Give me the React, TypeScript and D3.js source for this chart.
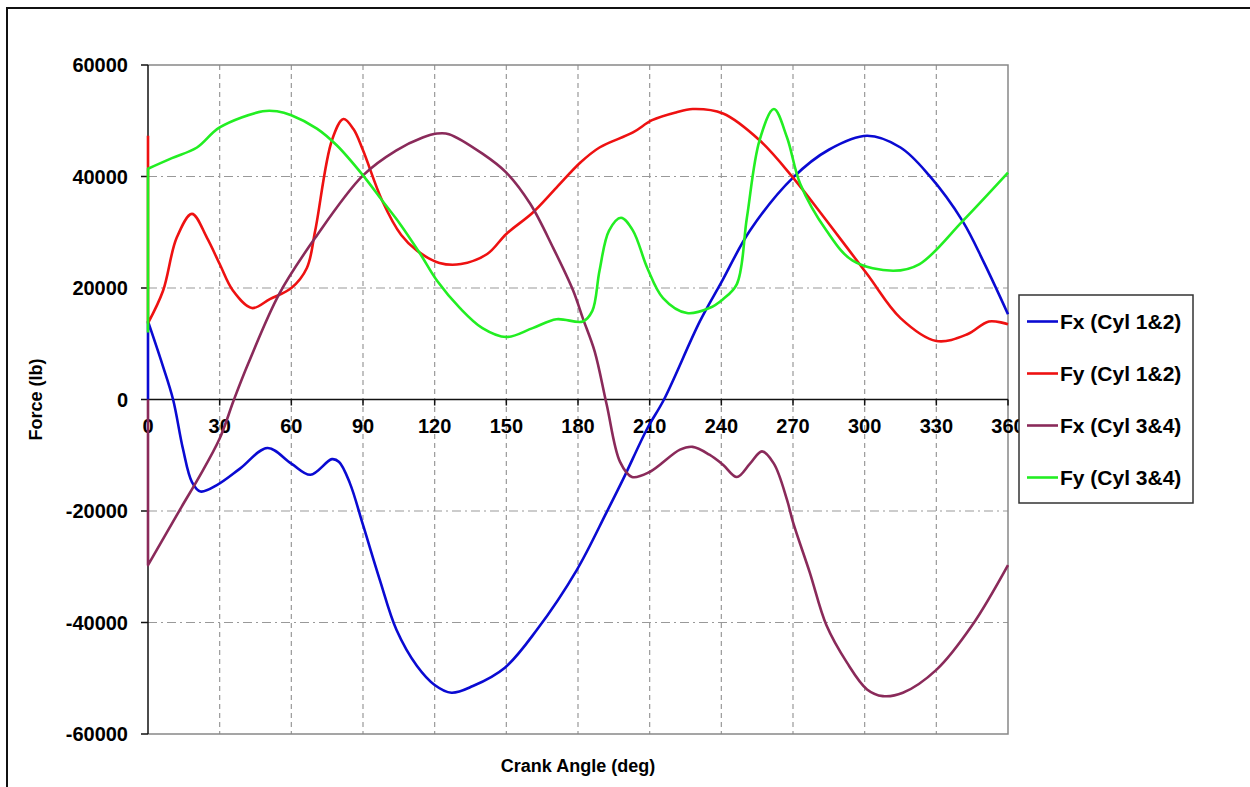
import { useRef, useEffect } from "react";
import * as d3 from "d3";

// crank angle (deg), force (lb); the first pair at 0 deg is the jump the sheet draws at the start
const fxCyl12: [number, number][] = [
  [0, 0], [0, 14000], [6, 6300], [10.5, 0], [14.6, -8800], [18.4, -14800], [22, -16500],
  [29, -15300], [38.5, -12400], [50, -8700], [60, -11500], [68, -13500], [77, -10700],
  [80, -11200], [84.5, -15000], [90, -22500], [97, -32300], [104, -41300], [112.6, -47800],
  [120, -51200], [127, -52600], [136, -51400], [149.4, -48100], [162.8, -41300],
  [179.6, -30500], [192, -20200], [199, -14200], [209, -5200], [216, 0], [231, 14000],
  [240, 21000], [252, 30300], [270, 39800], [285, 44800], [301, 47300], [315, 45200],
  [327, 40200], [341, 32000], [350, 24500], [360, 15300],
];

const fyCyl12: [number, number][] = [
  [0, 47300], [0, 13700], [6.3, 19500], [12, 29000], [18.4, 33300], [24.7, 29000],
  [30, 24300], [35.6, 19500], [43.5, 16400], [51, 18000], [60, 20000], [66.5, 23600],
  [70, 30300], [77, 46500], [81.8, 50300], [86, 48500], [90, 44700], [98, 35700],
  [106, 29500], [112.6, 26700], [122, 24500], [131, 24300], [142, 26100], [150, 29700],
  [161, 33500], [171, 38000], [181, 42500], [189, 45200], [203, 47900], [211, 50100],
  [221, 51500], [228, 52100], [240.7, 51300], [256, 46500], [270, 39800], [284, 32100],
  [301, 22500], [315, 14600], [330, 10500], [343, 11700], [352, 14000], [360, 13500],
];

const fxCyl34: [number, number][] = [
  [0, 0], [0, -29700], [14, -19300], [21, -14200], [30, -7000], [36, 0], [42, 6500],
  [55, 19000], [70, 29000], [90, 40200], [104, 44700], [115, 47000], [121, 47700],
  [126, 47600], [140, 44100], [150, 40700], [160, 35100], [169.6, 27200], [178, 19500],
  [182, 14600], [187, 8600], [192, -900], [197.6, -11200], [202.6, -13900], [210, -13000],
  [222.7, -9000], [228, -8500], [235, -9900], [240.7, -11700], [246.5, -13900],
  [252, -11500], [257, -9300], [262, -11500], [267.5, -18000], [270, -22000],
  [277, -31000], [284, -40500], [292.6, -47200], [301, -52000], [307.6, -53200],
  [316, -52600], [330, -48500], [345, -40500], [360, -29700],
];

const fyCyl34: [number, number][] = [
  [0, 12000], [0, 41400], [10, 43300], [20.5, 45200], [30, 48800], [48, 51700],
  [54, 51700], [60, 51000], [70.7, 48600], [79, 45600], [90, 40200], [98, 35700],
  [105.5, 31500], [114, 26100], [121, 21300], [130.6, 16400], [140, 12800], [150, 11200],
  [161, 12800], [171, 14400], [182, 14000], [186, 15900], [189, 23100], [193, 30300],
  [198, 32600], [203, 30300], [209, 23600], [215.6, 18200], [225.6, 15500], [235, 16400],
  [240.7, 18000], [246.5, 20700], [250.7, 32600], [256, 46500], [262, 52100],
  [267.5, 47000], [273, 38700], [284, 30300], [295, 24900], [312, 23100], [323, 24300],
  [341, 32000], [360, 40700],
];

const seriesNames = ["Fx (Cyl 1&2)", "Fy (Cyl 1&2)", "Fx (Cyl 3&4)", "Fy (Cyl 3&4)"];
const seriesColors = ["#0a0ad2", "#ee1111", "#8a2a5a", "#22ee22"];
const xTicks = [0, 30, 60, 90, 120, 150, 180, 210, 240, 270, 300, 330, 360];
const yTicks = [-60000, -40000, -20000, 0, 20000, 40000, 60000];

const ForceChart = () => {
  const svgRef = useRef<SVGSVGElement>(null);

  useEffect(() => {
    const svg = d3.select(svgRef.current);
    svg.selectAll("*").remove();

    const x = d3.scaleLinear().domain([0, 360]).range([148, 1008]);
    const y = d3.scaleLinear().domain([-60000, 60000]).range([734, 65]);
    const font = "'Liberation Sans', Arial, sans-serif";

    // outer frame (right and bottom edges fall off the picture)
    svg.append("rect")
      .attr("x", 7).attr("y", 8).attr("width", 1300).attr("height", 900)
      .attr("fill", "none").attr("stroke", "#111").attr("stroke-width", 2);

    const g = svg.append("g");

    // grid
    g.selectAll(".vgrid")
      .data(xTicks.filter((d) => d > 0 && d < 360))
      .enter().append("line")
      .attr("x1", (d) => x(d)).attr("x2", (d) => x(d))
      .attr("y1", y(60000)).attr("y2", y(-60000))
      .attr("stroke", "#999").attr("stroke-width", 1.2)
      .attr("stroke-dasharray", "5,4");

    g.selectAll(".hgrid")
      .data(yTicks.filter((d) => d !== 0 && Math.abs(d) < 60000))
      .enter().append("line")
      .attr("x1", x(0)).attr("x2", x(360))
      .attr("y1", (d) => y(d)).attr("y2", (d) => y(d))
      .attr("stroke", "#999").attr("stroke-width", 1.2)
      .attr("stroke-dasharray", "9,4,2,4");

    // plot border
    g.append("path")
      .attr("d", `M${x(0)},${y(60000)}H${x(360)}V${y(-60000)}H${x(0)}`)
      .attr("fill", "none").attr("stroke", "#888").attr("stroke-width", 1.5);

    // y axis
    g.append("line")
      .attr("x1", x(0)).attr("x2", x(0)).attr("y1", y(60000)).attr("y2", y(-60000))
      .attr("stroke", "#111").attr("stroke-width", 1.5);
    g.selectAll(".ytick")
      .data(yTicks).enter().append("line")
      .attr("x1", x(0) - 7).attr("x2", x(0))
      .attr("y1", (d) => y(d)).attr("y2", (d) => y(d))
      .attr("stroke", "#111").attr("stroke-width", 1.5);
    g.selectAll(".ylabel")
      .data(yTicks).enter().append("text")
      .attr("x", 128).attr("y", (d) => y(d)).attr("dy", "0.36em")
      .attr("text-anchor", "end")
      .attr("font-family", font).attr("font-weight", "bold").attr("font-size", 20)
      .text((d) => String(d));

    // x axis at zero
    g.append("line")
      .attr("x1", x(0)).attr("x2", x(360)).attr("y1", y(0)).attr("y2", y(0))
      .attr("stroke", "#111").attr("stroke-width", 1.5);
    g.selectAll(".xtick")
      .data(xTicks).enter().append("line")
      .attr("x1", (d) => x(d)).attr("x2", (d) => x(d))
      .attr("y1", y(0)).attr("y2", y(0) + 6)
      .attr("stroke", "#111").attr("stroke-width", 1.5);
    g.selectAll(".xlabel")
      .data(xTicks).enter().append("text")
      .attr("x", (d) => x(d)).attr("y", y(0) + 33)
      .attr("text-anchor", "middle")
      .attr("font-family", font).attr("font-weight", "bold").attr("font-size", 20)
      .text((d) => String(d));

    // axis titles
    svg.append("text")
      .attr("x", x(180)).attr("y", 772).attr("text-anchor", "middle")
      .attr("font-family", font).attr("font-weight", "bold").attr("font-size", 18)
      .text("Crank Angle (deg)");
    svg.append("text")
      .attr("transform", `translate(42,${y(0)}) rotate(-90)`)
      .attr("text-anchor", "middle")
      .attr("font-family", font).attr("font-weight", "bold").attr("font-size", 18)
      .text("Force (lb)");

    // series: straight jump at 0 deg, then a smooth curve
    const curve = d3.line<[number, number]>()
      .x((d) => x(d[0])).y((d) => y(d[1]))
      .curve(d3.curveCatmullRom.alpha(0.5));

    [fxCyl12, fyCyl12, fxCyl34, fyCyl34].forEach((pts, i) => {
      const rest = curve(pts.slice(1)) || "";
      g.append("path")
        .attr("d", `M${x(pts[0][0])},${y(pts[0][1])}L${rest.slice(1)}`)
        .attr("fill", "none")
        .attr("stroke", seriesColors[i])
        .attr("stroke-width", 2.6)
        .attr("stroke-linejoin", "round");
    });

    // legend
    const legend = svg.append("g");
    legend.append("rect")
      .attr("x", 1019).attr("y", 295).attr("width", 174).attr("height", 208)
      .attr("fill", "#fff").attr("stroke", "#333").attr("stroke-width", 1.5);
    seriesNames.forEach((name, i) => {
      const cy = 321.5 + i * 52;
      legend.append("line")
        .attr("x1", 1027).attr("x2", 1058).attr("y1", cy).attr("y2", cy)
        .attr("stroke", seriesColors[i]).attr("stroke-width", 2.6);
      legend.append("text")
        .attr("x", 1060).attr("y", cy).attr("dy", "0.36em")
        .attr("font-family", font).attr("font-weight", "bold").attr("font-size", 21)
        .text(name);
    });
  }, []);

  return (
    <svg
      ref={svgRef}
      width={1250}
      height={787}
      style={{ position: "absolute", left: 0, top: 0, background: "#fff" }}
    ></svg>
  );
};

export default function App() {
  return <ForceChart />;
}
